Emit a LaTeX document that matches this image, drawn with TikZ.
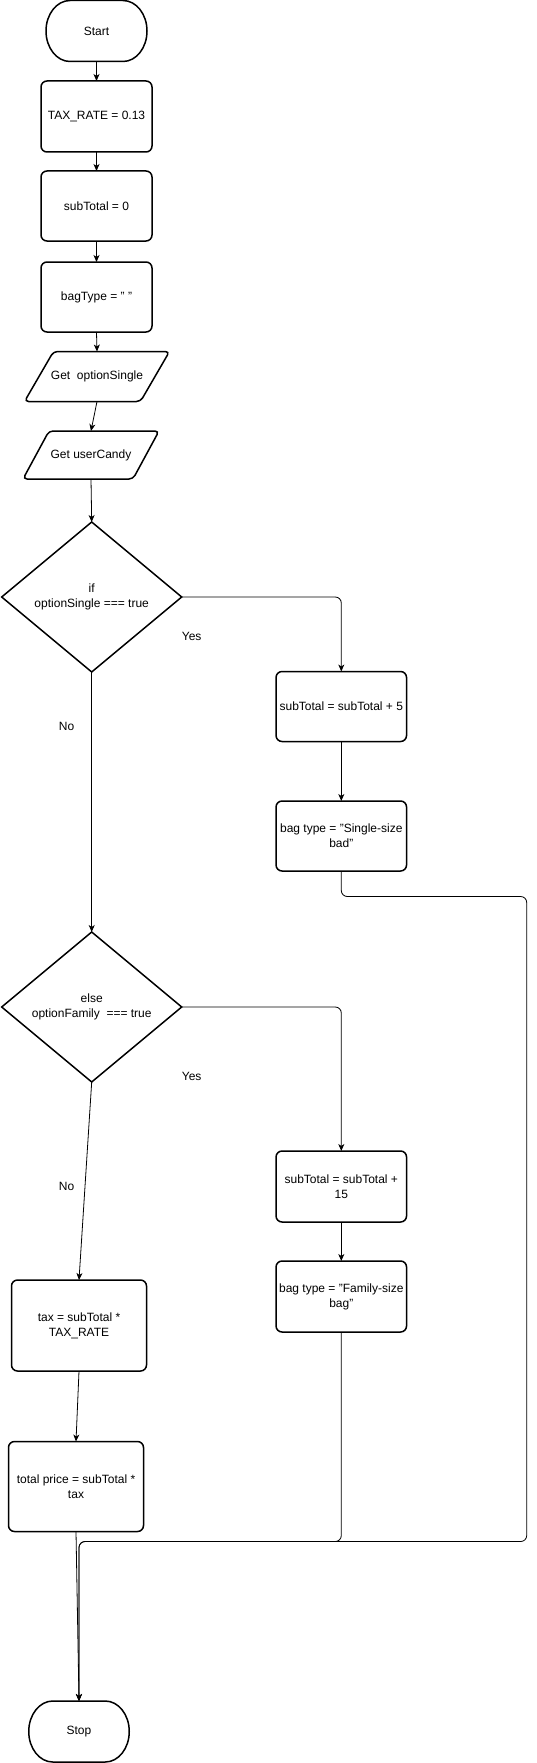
\documentclass[tikz,border=0pt]{standalone}
\usepackage{fontspec}
\setmainfont{Liberation Sans}
\usetikzlibrary{shapes.geometric,arrows.meta}
\tikzset{
  base/.style={font=\fontsize{12}{15}\selectfont, align=center, inner sep=0pt, outer sep=0pt},
  term/.style={base, minimum width=101pt, minimum height=61pt},
  termline/.style={line width=1.5pt},
  box/.style={base, draw, line width=1.5pt, rounded corners=6pt, minimum width=130.5pt, minimum height=70pt},
  iobox/.style={base, minimum height=50pt},
  dia/.style={base, draw, line width=1.5pt, diamond, aspect=1.2, minimum width=180pt, minimum height=150pt},
  conn/.style={line width=0.8pt, -{Stealth[length=7pt,width=6pt,inset=2pt]}},
  lbl/.style={base}
}
\begin{document}
\begin{tikzpicture}[x=1pt,y=-1pt]
\useasboundingbox (0,0) rectangle (536,1763);

\node[term] (start) at (96.5,31) {Start};
\draw[termline] ([xshift=24pt]start.north west) -- ([xshift=-24pt]start.north east)
  arc[start angle=-90, end angle=90, x radius=24, y radius=30.5]
  -- ([xshift=24pt]start.south west)
  arc[start angle=90, end angle=270, x radius=24, y radius=30.5] -- cycle;

\node[box, minimum width=111pt, minimum height=71pt] (tr) at (96.5,116.5) {TAX\_RATE = 0.13};
\node[box, minimum width=111pt] (st0) at (96.5,206) {subTotal = 0};
\node[box, minimum width=111pt] (bt) at (96.5,297) {bagType = " "};

\node[iobox, minimum width=116pt] (o1) at (97,376.5) {Get~ optionSingle};
\draw[line width=1.5pt, rounded corners=4pt]
  ([xshift=14.5pt]o1.north west) -- ([xshift=14.5pt]o1.north east) --
  ([xshift=-14.5pt]o1.south east) -- ([xshift=-14.5pt]o1.south west) -- cycle;
\node[iobox, minimum width=110pt, minimum height=48pt] (o2) at (91,455) {Get userCandy};
\draw[line width=1.5pt, rounded corners=4pt]
  ([xshift=13pt]o2.north west) -- ([xshift=13pt]o2.north east) --
  ([xshift=-13pt]o2.south east) -- ([xshift=-13pt]o2.south west) -- cycle;

\node[dia] (d1) at (91.7,597) {if\\optionSingle === true};
\node[box] (b5) at (341.3,706.5) {subTotal = subTotal + 5};
\node[box] (bag1) at (341.3,836) {bag type = "Single-size\\bad"};

\node[dia] (d2) at (91.7,1007) {else\\optionFamily~ === true};
\node[box, minimum height=71pt] (b15) at (341.3,1186.5) {subTotal = subTotal +\\15};
\node[box, minimum height=71pt] (bag2) at (341.3,1296.5) {bag type = "Family-size\\bag"};

\node[box, minimum width=135pt, minimum height=91pt] (tax) at (79,1325.5) {tax = subTotal *\\TAX\_RATE};
\node[box, minimum width=135pt, minimum height=90pt] (total) at (76,1486.5) {total price = subTotal *\\tax};

\node[term, minimum width=100.5pt] (stop) at (79,1731.5) {Stop};
\draw[termline] ([xshift=24pt]stop.north west) -- ([xshift=-24pt]stop.north east)
  arc[start angle=-90, end angle=90, x radius=24, y radius=30.5]
  -- ([xshift=24pt]stop.south west)
  arc[start angle=90, end angle=270, x radius=24, y radius=30.5] -- cycle;

\node[lbl] (y1) at (191.7,636) {Yes};
\node[lbl] (n1) at (66.6,726) {No};
\node[lbl] (y2) at (191.7,1076) {Yes};
\node[lbl] (n2) at (66.6,1186) {No};

\coordinate (r1) at (526.7,896.5);
\coordinate (m) at (79,1541.5);

\draw[conn] (start) -- (tr);
\draw[conn] (tr) -- (st0);
\draw[conn] (st0) -- (bt);
\draw[conn] (bt.south) -- (o1.north);
\draw[conn] (o1.south) -- (o2.north);
\draw[conn] (o2.south) -- (d1.north);
\draw[conn, rounded corners=6pt] (d1.east) -| (b5.north);
\draw[conn] (b5) -- (bag1);
\draw[conn] (d1.south) -- (d2.north);
\draw[conn, rounded corners=6pt] (d2.east) -| (b15.north);
\draw[conn] (b15) -- (bag2);
\draw[conn] (d2.south) -- (tax.north);
\draw[conn] (tax.south) -- (total.north);
\draw[conn] (total.south) -- (stop.north);
\draw[conn, rounded corners=6pt] (bag1.south) |- (r1) |- (m) -- (stop.north);
\draw[conn, rounded corners=6pt] (bag2.south) |- (m) -- (stop.north);
\end{tikzpicture}
\end{document}
